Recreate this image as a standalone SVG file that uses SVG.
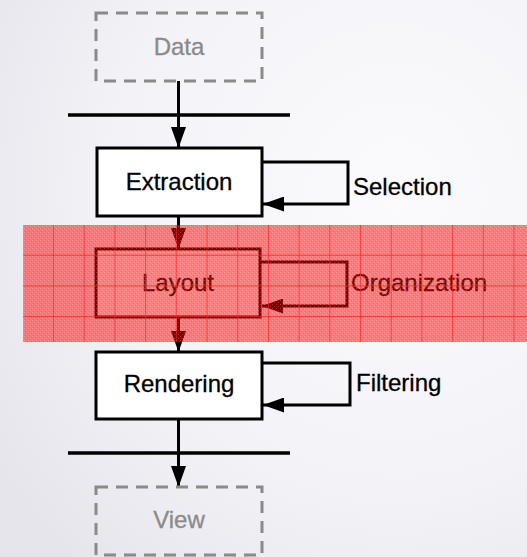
<svg xmlns="http://www.w3.org/2000/svg" width="527" height="557" viewBox="0 0 527 557">
  <defs>
    <radialGradient id="bg" cx="0.75" cy="0.35" r="0.9">
      <stop offset="0" stop-color="#fbfbfd"/>
      <stop offset="0.6" stop-color="#f3f2f7"/>
      <stop offset="1" stop-color="#e6e5ec"/>
    </radialGradient>
    <marker id="arrow" viewBox="0 0 21 15" refX="21" refY="7.5" markerWidth="21" markerHeight="15" markerUnits="userSpaceOnUse" orient="auto">
      <path d="M0,0 L21,7.5 L0,15 Z" fill="#000"/>
    </marker>
    <pattern id="grain" width="4" height="4" patternUnits="userSpaceOnUse">
      <rect x="0" y="0" width="1" height="1" fill="#ffffff" fill-opacity="0.2"/>
      <rect x="2" y="2" width="1" height="1" fill="#ffffff" fill-opacity="0.2"/>
      <rect x="1" y="3" width="1" height="1" fill="#b00000" fill-opacity="0.15"/>
      <rect x="3" y="1" width="1" height="1" fill="#b00000" fill-opacity="0.15"/>
    </pattern>
    <pattern id="grid" x="23.3" y="225" width="30.7" height="30.7" patternUnits="userSpaceOnUse">
      <path d="M30.7,0 V30.7 M0,30.7 H30.7" fill="none" stroke="#ff2020" stroke-width="1.3"/>
    </pattern>
  </defs>
  <style>
    .box { fill: #ffffff; stroke: #000; stroke-width: 3; }
    .ghost { fill: none; stroke: #8a8a8a; stroke-width: 3; stroke-dasharray: 12 8; }
    .lbl { font-family: "Liberation Sans", Arial, sans-serif; font-size: 24px; fill: #000; stroke: #000; stroke-width: 0.3; }
    .mid { text-anchor: middle; }
    .gray { fill: #8a8a8a; stroke: #8a8a8a; }
    .edge { fill: none; stroke: #000; stroke-width: 3; }
    .bar { stroke: #000; stroke-width: 3.5; }
  </style>

  <rect width="527" height="557" fill="url(#bg)"/>

  <!-- connectors -->
  <g id="connectors">
    <line class="bar" x1="68" y1="115" x2="290" y2="115"/>
    <line class="bar" x1="68" y1="453" x2="290" y2="453"/>
    <line class="edge" x1="178.5" y1="81" x2="178.5" y2="148" marker-end="url(#arrow)"/>
    <line class="edge" x1="178.5" y1="216" x2="178.5" y2="249" marker-end="url(#arrow)"/>
    <line class="edge" x1="178.5" y1="317" x2="178.5" y2="352" marker-end="url(#arrow)"/>
    <line class="edge" x1="178.5" y1="419" x2="178.5" y2="487" marker-end="url(#arrow)"/>
    <polyline class="edge" points="262,162 348,162 348,204 263,204" marker-end="url(#arrow)"/>
    <polyline class="edge" points="260,262 347,262 347,306 262,306" marker-end="url(#arrow)"/>
    <polyline class="edge" points="262,363 350,363 350,405 263,405" marker-end="url(#arrow)"/>
  </g>

  <!-- nodes -->
  <g id="data">
    <rect class="ghost" x="96" y="13" width="166" height="68"/>
    <text class="lbl mid gray" x="179" y="55">Data</text>
  </g>
  <g id="extraction">
    <rect class="box" x="97" y="148" width="165" height="68"/>
    <text class="lbl mid" x="179" y="190">Extraction</text>
  </g>
  <g id="selection">
    <text class="lbl" x="353" y="195">Selection</text>
  </g>
  <g id="layout">
    <rect class="box" x="96" y="249" width="164" height="68"/>
    <text class="lbl mid" x="178" y="291">Layout</text>
  </g>
  <g id="organization">
    <text class="lbl" x="351" y="291">Organization</text>
  </g>
  <g id="rendering">
    <rect class="box" x="96" y="352" width="166" height="67"/>
    <text class="lbl mid" x="179" y="392">Rendering</text>
  </g>
  <g id="filtering">
    <text class="lbl" x="356" y="391">Filtering</text>
  </g>
  <g id="view">
    <rect class="ghost" x="96" y="487" width="166" height="68"/>
    <text class="lbl mid gray" x="179" y="528">View</text>
  </g>

  <!-- translucent highlight band over the layout stage -->
  <g id="highlight">
    <rect x="23.3" y="225" width="504" height="117" fill="#ff0000" fill-opacity="0.5"/>
    <rect x="23.3" y="225" width="504" height="117" fill="url(#grain)"/>
    <rect x="23.3" y="225" width="504" height="117" fill="url(#grid)"/>
  </g>
</svg>
